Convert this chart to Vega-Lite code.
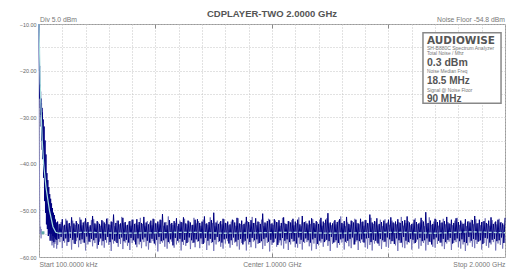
{
"$schema":"https://vega.github.io/schema/vega-lite/v6.json",
"width":466,"height":233,"autosize":"none",
"padding":{"left":39,"top":24,"right":7,"bottom":21},
"background":"white",
"title":{"text":"CDPLAYER-TWO 2.0000 GHz","font":"Liberation Sans","fontSize":9.5,"fontWeight":"bold","color":"#555555","anchor":"middle","offset":-2},
"config":{"view":{"stroke":"#9a9a9a","strokeWidth":1}},
"resolve":{"axis":{"x":"independent","y":"independent"}},
"data":{"values":[
{"f":0.1,"a":-10,"b":-10},{"f":1,"a":-13,"b":-12},{"f":2,"a":-20,"b":-18},{"f":3,"a":-19,"b":-22},{"f":4,"a":-26,"b":-26},{"f":5,"a":-23,"b":-25},{"f":6,"a":-28,"b":-28},{"f":7,"a":-24.5,"b":-27},{"f":8,"a":-29.5,"b":-30},{"f":9,"a":-26,"b":-29},{"f":10,"a":-32,"b":-32},{"f":11,"a":-27,"b":-31},{"f":12,"a":-35,"b":-33.5},{"f":13,"a":-28,"b":-32.5},{"f":14,"a":-37,"b":-35},{"f":15,"a":-29,"b":-34},{"f":16,"a":-39,"b":-36.5},{"f":18,"a":-30.5,"b":-36},{"f":20,"a":-43,"b":-39},{"f":22,"a":-32,"b":-38.5},{"f":24,"a":-48,"b":-41.5},{"f":26,"a":-35,"b":-41},{"f":28,"a":-50.5,"b":-44},{"f":30,"a":-38,"b":-43},{"f":32,"a":-53,"b":-46},{"f":34,"a":-42,"b":-45.5},{"f":36,"a":-54,"b":-48.5},{"f":38,"a":-43.5,"b":-47},{"f":40,"a":-55.5,"b":-50},{"f":42,"a":-45,"b":-49},{"f":44,"a":-55,"b":-52},{"f":46,"a":-46.5,"b":-50.5},{"f":48,"a":-56.5,"b":-54},{"f":50,"a":-47.5,"b":-52},{"f":52,"a":-55,"b":-56},{"f":54,"a":-48.5,"b":-52.5},{"f":56,"a":-56.5,"b":-57.5},{"f":58,"a":-49.5,"b":-52},{"f":60,"a":-55.5,"b":-57},{"f":62,"a":-50.5,"b":-53},{"f":64,"a":-56.8,"b":-58},{"f":66,"a":-51,"b":-52.5},{"f":68,"a":-55.8,"b":-57.2},{"f":70,"a":-52,"b":-51.8},{"f":72,"a":-56.2,"b":-56.8},{"f":74,"a":-52.6,"b":-53.2},{"f":76,"a":-56.3,"b":-58.2},{"f":78,"a":-55,"b":-52.6},
{"f":80,"a":-52.4,"b":-57.4},{"f":85,"a":-56.1,"b":-53.0},{"f":90,"a":-52.9,"b":-56.8},{"f":95,"a":-55.7,"b":-52.5},{"f":100,"a":-51.9,"b":-58.1},{"f":105,"a":-56.5,"b":-53.3},{"f":110,"a":-53.1,"b":-56.9},{"f":115,"a":-56.0,"b":-51.8},{"f":120,"a":-52.2,"b":-57.6},{"f":125,"a":-56.8,"b":-52.9},
{"f":130,"a":-52.7,"b":-56.7},{"f":135,"a":-55.9,"b":-53.4},{"f":140,"a":-51.5,"b":-58.4},{"f":145,"a":-56.3,"b":-52.2},{"f":150,"a":-52.8,"b":-57.1},{"f":155,"a":-57.2,"b":-53.1},{"f":160,"a":-52.3,"b":-56.6},{"f":165,"a":-55.8,"b":-52.7},{"f":170,"a":-53.0,"b":-57.9},{"f":175,"a":-56.4,"b":-51.5},
{"f":180,"a":-52.0,"b":-57.2},{"f":185,"a":-56.2,"b":-53.2},{"f":190,"a":-52.6,"b":-56.9},{"f":195,"a":-56.9,"b":-52.4},{"f":200,"a":-51.7,"b":-58.6},{"f":205,"a":-55.6,"b":-52.8},{"f":210,"a":-52.5,"b":-57.3},{"f":215,"a":-56.7,"b":-53.5},{"f":220,"a":-53.2,"b":-56.8},{"f":225,"a":-56.1,"b":-52.1},
{"f":230,"a":-51.2,"b":-57.7},{"f":235,"a":-56.4,"b":-51.9},{"f":240,"a":-52.8,"b":-57.0},{"f":245,"a":-55.9,"b":-53.0},{"f":250,"a":-52.3,"b":-58.2},{"f":255,"a":-57.4,"b":-52.6},{"f":260,"a":-52.9,"b":-56.7},{"f":265,"a":-56.0,"b":-53.3},{"f":270,"a":-52.1,"b":-57.5},{"f":275,"a":-56.6,"b":-52.3},
{"f":280,"a":-52.6,"b":-58.0},{"f":285,"a":-56.3,"b":-52.9},{"f":290,"a":-51.8,"b":-56.9},{"f":295,"a":-55.7,"b":-51.7},{"f":300,"a":-53.0,"b":-57.4},{"f":305,"a":-56.8,"b":-53.1},{"f":310,"a":-52.4,"b":-58.7},{"f":315,"a":-56.2,"b":-52.5},{"f":320,"a":-50.9,"b":-57.1},{"f":325,"a":-56.5,"b":-53.4},
{"f":330,"a":-52.7,"b":-56.8},{"f":335,"a":-57.0,"b":-52.2},{"f":340,"a":-52.2,"b":-57.8},{"f":345,"a":-56.1,"b":-53.0},{"f":350,"a":-52.8,"b":-57.2},{"f":355,"a":-55.8,"b":-51.4},{"f":360,"a":-51.6,"b":-58.3},{"f":365,"a":-56.6,"b":-52.7},{"f":370,"a":-52.5,"b":-56.9},{"f":375,"a":-56.3,"b":-53.2},
{"f":380,"a":-53.1,"b":-57.6},{"f":385,"a":-56.9,"b":-52.4},{"f":390,"a":-52.3,"b":-58.5},{"f":395,"a":-55.9,"b":-53.3},{"f":400,"a":-52.0,"b":-57.0},{"f":405,"a":-56.4,"b":-52.0},{"f":410,"a":-52.9,"b":-56.7},{"f":415,"a":-57.3,"b":-52.8},{"f":420,"a":-51.9,"b":-57.9},{"f":425,"a":-56.0,"b":-53.1},
{"f":430,"a":-52.5,"b":-57.3},{"f":435,"a":-56.7,"b":-51.6},{"f":440,"a":-52.7,"b":-58.1},{"f":445,"a":-56.2,"b":-52.9},{"f":450,"a":-51.4,"b":-56.8},{"f":455,"a":-55.8,"b":-53.4},{"f":460,"a":-52.6,"b":-57.7},{"f":465,"a":-56.5,"b":-52.3},{"f":470,"a":-53.0,"b":-58.4},{"f":475,"a":-56.9,"b":-52.6},
{"f":480,"a":-52.2,"b":-57.0},{"f":485,"a":-56.1,"b":-53.2},{"f":490,"a":-51.8,"b":-56.6},{"f":495,"a":-57.1,"b":-51.9},{"f":500,"a":-52.8,"b":-57.5},{"f":505,"a":-56.3,"b":-52.8},{"f":510,"a":-52.4,"b":-58.8},{"f":515,"a":-55.7,"b":-53.0},{"f":520,"a":-52.0,"b":-57.2},{"f":525,"a":-56.6,"b":-52.1},
{"f":530,"a":-50.8,"b":-56.9},{"f":535,"a":-56.4,"b":-53.3},{"f":540,"a":-52.6,"b":-57.8},{"f":545,"a":-56.0,"b":-52.5},{"f":550,"a":-53.2,"b":-58.2},{"f":555,"a":-56.8,"b":-51.3},{"f":560,"a":-52.1,"b":-57.1},{"f":565,"a":-56.2,"b":-52.9},{"f":570,"a":-52.7,"b":-56.7},{"f":575,"a":-57.5,"b":-53.1},
{"f":580,"a":-52.3,"b":-58.0},{"f":585,"a":-55.9,"b":-52.7},{"f":590,"a":-51.7,"b":-57.3},{"f":595,"a":-56.5,"b":-53.4},{"f":600,"a":-52.9,"b":-56.9},{"f":605,"a":-56.1,"b":-52.2},{"f":610,"a":-52.5,"b":-58.6},{"f":615,"a":-56.7,"b":-52.6},{"f":620,"a":-51.5,"b":-57.4},{"f":625,"a":-56.3,"b":-51.8},
{"f":630,"a":-52.8,"b":-57.6},{"f":635,"a":-57.0,"b":-53.0},{"f":640,"a":-52.2,"b":-56.8},{"f":645,"a":-55.8,"b":-52.4},{"f":650,"a":-52.6,"b":-58.3},{"f":655,"a":-56.4,"b":-53.2},{"f":660,"a":-53.1,"b":-57.0},{"f":665,"a":-56.9,"b":-51.6},{"f":670,"a":-52.0,"b":-57.9},{"f":675,"a":-56.2,"b":-52.8},
{"f":680,"a":-51.9,"b":-56.7},{"f":685,"a":-56.6,"b":-52.3},{"f":690,"a":-52.7,"b":-58.1},{"f":695,"a":-56.0,"b":-53.3},{"f":700,"a":-52.4,"b":-57.2},{"f":705,"a":-57.2,"b":-52.0},{"f":710,"a":-51.3,"b":-56.9},{"f":715,"a":-55.9,"b":-52.9},{"f":720,"a":-52.8,"b":-58.5},{"f":725,"a":-56.5,"b":-53.1},
{"f":730,"a":-52.5,"b":-57.5},{"f":735,"a":-56.1,"b":-51.5},{"f":740,"a":-52.1,"b":-57.0},{"f":745,"a":-56.8,"b":-52.7},{"f":750,"a":-50.5,"b":-58.7},{"f":755,"a":-56.3,"b":-53.4},{"f":760,"a":-52.6,"b":-57.3},{"f":765,"a":-55.7,"b":-52.2},{"f":770,"a":-52.9,"b":-56.8},{"f":775,"a":-56.6,"b":-52.6},
{"f":780,"a":-52.3,"b":-57.8},{"f":785,"a":-56.9,"b":-53.0},{"f":790,"a":-51.8,"b":-58.2},{"f":795,"a":-56.2,"b":-51.9},{"f":800,"a":-52.7,"b":-57.1},{"f":805,"a":-56.0,"b":-52.8},{"f":810,"a":-52.4,"b":-56.6},{"f":815,"a":-57.1,"b":-53.2},{"f":820,"a":-53.0,"b":-58.0},{"f":825,"a":-56.4,"b":-52.4},
{"f":830,"a":-52.0,"b":-57.4},{"f":835,"a":-55.8,"b":-52.1},{"f":840,"a":-52.6,"b":-56.9},{"f":845,"a":-56.7,"b":-53.3},{"f":850,"a":-51.6,"b":-57.7},{"f":855,"a":-56.3,"b":-51.7},{"f":860,"a":-52.8,"b":-58.4},{"f":865,"a":-56.1,"b":-52.9},{"f":870,"a":-52.2,"b":-57.0},{"f":875,"a":-57.3,"b":-53.1},
{"f":880,"a":-52.9,"b":-56.8},{"f":885,"a":-56.5,"b":-52.6},{"f":890,"a":-51.4,"b":-58.6},{"f":895,"a":-56.0,"b":-52.3},{"f":900,"a":-52.5,"b":-57.3},{"f":905,"a":-56.8,"b":-53.0},{"f":910,"a":-52.1,"b":-57.9},{"f":915,"a":-55.9,"b":-51.4},{"f":920,"a":-52.7,"b":-56.7},{"f":925,"a":-56.4,"b":-52.7},
{"f":930,"a":-51.7,"b":-58.1},{"f":935,"a":-56.2,"b":-53.2},{"f":940,"a":-52.4,"b":-57.2},{"f":945,"a":-57.0,"b":-52.5},{"f":950,"a":-52.9,"b":-56.9},{"f":955,"a":-56.6,"b":-52.0},{"f":960,"a":-50.7,"b":-58.3},{"f":965,"a":-56.1,"b":-53.4},{"f":970,"a":-52.6,"b":-57.6},{"f":975,"a":-55.8,"b":-52.8},
{"f":980,"a":-52.3,"b":-57.0},{"f":985,"a":-56.7,"b":-51.8},{"f":990,"a":-52.0,"b":-58.8},{"f":995,"a":-56.3,"b":-52.9},{"f":1000,"a":-52.8,"b":-57.4},{"f":1005,"a":-56.9,"b":-53.1},{"f":1010,"a":-51.9,"b":-56.8},{"f":1015,"a":-56.0,"b":-52.2},{"f":1020,"a":-52.5,"b":-57.8},{"f":1025,"a":-57.4,"b":-52.6},
{"f":1030,"a":-52.1,"b":-56.9},{"f":1035,"a":-56.4,"b":-53.3},{"f":1040,"a":-52.7,"b":-57.5},{"f":1045,"a":-55.9,"b":-51.6},{"f":1050,"a":-51.5,"b":-58.2},{"f":1055,"a":-56.5,"b":-52.7},{"f":1060,"a":-52.9,"b":-57.1},{"f":1065,"a":-56.2,"b":-53.0},{"f":1070,"a":-52.3,"b":-58.5},{"f":1075,"a":-56.8,"b":-52.4},
{"f":1080,"a":-52.6,"b":-57.3},{"f":1085,"a":-56.1,"b":-52.1},{"f":1090,"a":-51.8,"b":-56.7},{"f":1095,"a":-56.6,"b":-53.2},{"f":1100,"a":-52.4,"b":-57.9},{"f":1105,"a":-57.1,"b":-52.8},{"f":1110,"a":-52.0,"b":-58.0},{"f":1115,"a":-55.8,"b":-51.5},{"f":1120,"a":-53.0,"b":-57.2},{"f":1125,"a":-56.3,"b":-53.4},
{"f":1130,"a":-51.2,"b":-58.4},{"f":1135,"a":-56.7,"b":-52.6},{"f":1140,"a":-52.5,"b":-57.0},{"f":1145,"a":-56.0,"b":-52.3},{"f":1150,"a":-52.8,"b":-56.8},{"f":1155,"a":-56.4,"b":-53.1},{"f":1160,"a":-52.2,"b":-57.7},{"f":1165,"a":-56.9,"b":-52.9},{"f":1170,"a":-51.7,"b":-58.6},{"f":1175,"a":-56.2,"b":-51.9},
{"f":1180,"a":-52.7,"b":-57.1},{"f":1185,"a":-55.9,"b":-53.0},{"f":1190,"a":-52.3,"b":-58.3},{"f":1195,"a":-57.2,"b":-52.5},{"f":1200,"a":-52.9,"b":-57.5},{"f":1205,"a":-56.5,"b":-52.0},{"f":1210,"a":-51.6,"b":-56.9},{"f":1215,"a":-56.1,"b":-53.3},{"f":1220,"a":-52.4,"b":-57.8},{"f":1225,"a":-56.8,"b":-52.7},
{"f":1230,"a":-52.0,"b":-56.6},{"f":1235,"a":-56.3,"b":-51.7},{"f":1240,"a":-50.6,"b":-57.6},{"f":1245,"a":-56.6,"b":-52.8},{"f":1250,"a":-52.6,"b":-58.7},{"f":1255,"a":-55.7,"b":-53.2},{"f":1260,"a":-52.8,"b":-57.2},{"f":1265,"a":-56.9,"b":-52.4},{"f":1270,"a":-52.1,"b":-56.8},{"f":1275,"a":-56.4,"b":-53.0},
{"f":1280,"a":-52.5,"b":-58.0},{"f":1285,"a":-57.0,"b":-52.2},{"f":1290,"a":-51.9,"b":-57.4},{"f":1295,"a":-56.2,"b":-51.3},{"f":1300,"a":-52.7,"b":-56.9},{"f":1305,"a":-56.0,"b":-52.9},{"f":1310,"a":-52.3,"b":-58.4},{"f":1315,"a":-56.7,"b":-53.4},{"f":1320,"a":-51.4,"b":-57.0},{"f":1325,"a":-56.5,"b":-52.6},
{"f":1330,"a":-52.9,"b":-57.7},{"f":1335,"a":-56.1,"b":-53.1},{"f":1340,"a":-52.2,"b":-58.1},{"f":1345,"a":-55.8,"b":-52.3},{"f":1350,"a":-52.6,"b":-57.3},{"f":1355,"a":-57.3,"b":-51.8},{"f":1360,"a":-52.0,"b":-56.7},{"f":1365,"a":-56.4,"b":-52.7},{"f":1370,"a":-52.8,"b":-58.5},{"f":1375,"a":-56.6,"b":-53.0},
{"f":1380,"a":-51.8,"b":-57.0},{"f":1385,"a":-56.2,"b":-52.5},{"f":1390,"a":-52.4,"b":-56.8},{"f":1395,"a":-56.9,"b":-53.3},{"f":1400,"a":-52.1,"b":-57.9},{"f":1405,"a":-56.0,"b":-52.1},{"f":1410,"a":-52.7,"b":-58.2},{"f":1415,"a":-55.9,"b":-52.8},{"f":1420,"a":-50.9,"b":-57.4},{"f":1425,"a":-56.8,"b":-51.6},
{"f":1430,"a":-52.6,"b":-58.6},{"f":1435,"a":-56.3,"b":-52.9},{"f":1440,"a":-52.3,"b":-57.1},{"f":1445,"a":-56.5,"b":-52.4},{"f":1450,"a":-51.7,"b":-56.9},{"f":1455,"a":-57.1,"b":-53.2},{"f":1460,"a":-52.9,"b":-57.6},{"f":1465,"a":-56.1,"b":-52.0},{"f":1470,"a":-52.5,"b":-58.3},{"f":1475,"a":-56.4,"b":-53.4},
{"f":1480,"a":-52.2,"b":-56.8},{"f":1485,"a":-56.7,"b":-51.9},{"f":1490,"a":-52.8,"b":-57.8},{"f":1495,"a":-55.8,"b":-52.6},{"f":1500,"a":-52.0,"b":-58.0},{"f":1505,"a":-56.2,"b":-53.1},{"f":1510,"a":-51.5,"b":-57.2},{"f":1515,"a":-56.6,"b":-52.2},{"f":1520,"a":-52.6,"b":-56.6},{"f":1525,"a":-57.2,"b":-52.8},
{"f":1530,"a":-52.4,"b":-57.5},{"f":1535,"a":-56.0,"b":-53.0},{"f":1540,"a":-51.9,"b":-58.7},{"f":1545,"a":-56.4,"b":-52.5},{"f":1550,"a":-52.7,"b":-57.0},{"f":1555,"a":-56.9,"b":-51.4},{"f":1560,"a":-52.3,"b":-57.9},{"f":1565,"a":-55.7,"b":-53.3},{"f":1570,"a":-52.1,"b":-58.1},{"f":1575,"a":-56.5,"b":-52.7},
{"f":1580,"a":-51.3,"b":-57.3},{"f":1585,"a":-56.8,"b":-52.3},{"f":1590,"a":-52.6,"b":-56.9},{"f":1595,"a":-56.1,"b":-53.2},{"f":1600,"a":-52.9,"b":-58.4},{"f":1605,"a":-56.3,"b":-52.8},{"f":1610,"a":-52.0,"b":-57.1},{"f":1615,"a":-57.0,"b":-51.7},{"f":1620,"a":-52.5,"b":-56.7},{"f":1625,"a":-56.2,"b":-53.0},
{"f":1630,"a":-52.8,"b":-58.2},{"f":1635,"a":-55.9,"b":-52.6},{"f":1640,"a":-51.6,"b":-57.6},{"f":1645,"a":-56.6,"b":-52.1},{"f":1650,"a":-52.4,"b":-57.0},{"f":1655,"a":-56.4,"b":-53.4},{"f":1660,"a":-50.4,"b":-58.6},{"f":1665,"a":-56.0,"b":-52.9},{"f":1670,"a":-52.7,"b":-57.4},{"f":1675,"a":-56.7,"b":-51.5},
{"f":1680,"a":-52.2,"b":-56.8},{"f":1685,"a":-57.3,"b":-53.1},{"f":1690,"a":-52.9,"b":-57.8},{"f":1695,"a":-56.2,"b":-52.4},{"f":1700,"a":-51.8,"b":-58.0},{"f":1705,"a":-55.8,"b":-52.0},{"f":1710,"a":-52.5,"b":-57.2},{"f":1715,"a":-56.5,"b":-53.3},{"f":1720,"a":-52.1,"b":-56.9},{"f":1725,"a":-56.9,"b":-52.7},
{"f":1730,"a":-52.6,"b":-57.7},{"f":1735,"a":-56.1,"b":-51.8},{"f":1740,"a":-52.3,"b":-58.3},{"f":1745,"a":-56.8,"b":-53.0},{"f":1750,"a":-51.4,"b":-57.1},{"f":1755,"a":-56.3,"b":-52.5},{"f":1760,"a":-52.8,"b":-56.7},{"f":1765,"a":-55.9,"b":-52.9},{"f":1770,"a":-52.0,"b":-58.5},{"f":1775,"a":-57.1,"b":-53.2},
{"f":1780,"a":-52.7,"b":-57.0},{"f":1785,"a":-56.4,"b":-52.2},{"f":1790,"a":-51.7,"b":-56.8},{"f":1795,"a":-56.0,"b":-51.6},{"f":1800,"a":-52.5,"b":-57.9},{"f":1805,"a":-56.6,"b":-53.1},{"f":1810,"a":-52.2,"b":-58.2},{"f":1815,"a":-56.2,"b":-52.6},{"f":1820,"a":-52.9,"b":-57.3},{"f":1825,"a":-56.8,"b":-52.8},
{"f":1830,"a":-51.9,"b":-58.7},{"f":1835,"a":-57.0,"b":-53.4},{"f":1840,"a":-52.4,"b":-57.5},{"f":1845,"a":-55.7,"b":-52.3},{"f":1850,"a":-52.6,"b":-56.9},{"f":1855,"a":-56.5,"b":-52.0},{"f":1860,"a":-52.1,"b":-57.8},{"f":1865,"a":-56.1,"b":-53.0},{"f":1870,"a":-51.2,"b":-58.1},{"f":1875,"a":-56.3,"b":-51.9},
{"f":1880,"a":-52.8,"b":-57.2},{"f":1885,"a":-56.7,"b":-52.7},{"f":1890,"a":-52.0,"b":-56.6},{"f":1895,"a":-56.4,"b":-53.2},{"f":1900,"a":-52.5,"b":-58.4},{"f":1905,"a":-57.2,"b":-52.4},{"f":1910,"a":-52.3,"b":-57.0},{"f":1915,"a":-55.9,"b":-51.7},{"f":1920,"a":-52.7,"b":-57.6},{"f":1925,"a":-56.0,"b":-52.9},
{"f":1930,"a":-52.2,"b":-58.0},{"f":1935,"a":-56.9,"b":-53.3},{"f":1940,"a":-51.5,"b":-57.3},{"f":1945,"a":-56.3,"b":-52.1},{"f":1950,"a":-52.9,"b":-56.8},{"f":1955,"a":-56.1,"b":-52.6},{"f":1960,"a":-52.4,"b":-58.6},{"f":1965,"a":-56.6,"b":-53.0},{"f":1970,"a":-52.0,"b":-57.1},{"f":1975,"a":-56.4,"b":-51.8},
{"f":1980,"a":-52.6,"b":-57.4},{"f":1985,"a":-55.8,"b":-52.5},{"f":1990,"a":-52.8,"b":-58.2},{"f":1995,"a":-57.0,"b":-53.1},{"f":2000,"a":-51.6,"b":-56.9}
]},
"layer":[
{"mark":{"type":"line","color":"#6c6cb4","strokeWidth":1,"opacity":0.85},
 "encoding":{
  "x":{"field":"f","type":"quantitative","scale":{"domain":[0.1,2000],"nice":false,"zero":false},
   "axis":{"title":null,"values":[0.1,100,200,300,400,500,600,700,800,900,1000,1100,1200,1300,1400,1500,1600,1700,1800,1900,2000],
    "labelExpr":"datum.value < 1 ? 'Start 100.0000 kHz' : datum.value == 1000 ? 'Center 1.0000 GHz' : datum.value == 2000 ? 'Stop 2.0000 GHz' : ''",
    "labelAlign":{"condition":[{"test":"datum.value < 1","value":"left"},{"test":"datum.value > 1999","value":"right"}],"value":"center"},
    "labelBaseline":"middle","labelPadding":7.5,"labelFont":"Liberation Sans","labelFontSize":6.8,"labelColor":"#777777",
    "labelOverlap":false,"labelBound":false,"labelFlush":false,
    "ticks":false,"domain":false,"grid":true,"gridColor":"#c4c4c4","gridDash":[1,2],"gridWidth":1}},
  "y":{"field":"b","type":"quantitative","scale":{"domain":[-60,-10],"nice":false,"zero":false},
   "axis":{"title":null,"values":[-60,-55,-50,-45,-40,-35,-30,-25,-20,-15,-10],
    "labelExpr":"datum.value % 10 == 0 ? format(datum.value, '.2f') : ''",
    "labelFont":"Liberation Sans","labelFontSize":5.4,"labelColor":"#666666","labelPadding":3,
    "labelOverlap":false,"labelBound":false,"labelFlush":false,
    "ticks":false,"domain":false,"grid":true,"gridColor":"#c4c4c4","gridDash":[1,2],"gridWidth":1}}}},
{"data":{"values":[{"f":0.1,"c":-10},{"f":1,"c":-28},{"f":2,"c":-40},{"f":3,"c":-47},{"f":4,"c":-52},{"f":5,"c":-55},{"f":7,"c":-53.5},{"f":9,"c":-56},{"f":11,"c":-54}]},
 "mark":{"type":"line","color":"#8080c0","strokeWidth":1,"opacity":0.8},
 "encoding":{"x":{"field":"f","type":"quantitative","axis":{"orient":"top","title":null,"values":[500,1000,1500],"labels":false,"grid":false,"domain":false,"ticks":true,"tickSize":-4,"tickColor":"#888888","tickWidth":1}},
  "y":{"field":"c","type":"quantitative","axis":null}}},
{"mark":{"type":"line","color":"#000080","strokeWidth":1},
 "encoding":{"x":{"field":"f","type":"quantitative","axis":{"orient":"bottom","title":null,"values":[500,1000,1500],"labels":false,"grid":false,"domain":false,"ticks":true,"tickSize":-4,"tickColor":"#888888","tickWidth":1}},
  "y":{"field":"a","type":"quantitative","axis":null}}},
{"data":{"values":[{"f":0.1,"m":-10},{"f":5,"m":-22},{"f":9,"m":-28.5},{"f":14,"m":-35},{"f":20,"m":-40},{"f":30,"m":-45},{"f":45,"m":-50},{"f":60,"m":-53.5},{"f":72,"m":-54.7},{"f":85,"m":-54.9}]},
 "mark":{"type":"line","color":"#a8dede","strokeWidth":1.2},
 "encoding":{"x":{"field":"f","type":"quantitative","axis":null},"y":{"field":"m","type":"quantitative","axis":null}}},
{"data":{"values":[{"f":85,"m":-54.9},{"f":200,"m":-54.7},{"f":350,"m":-54.9},{"f":500,"m":-54.8},{"f":650,"m":-54.7},{"f":800,"m":-54.9},{"f":950,"m":-54.8},{"f":1100,"m":-54.7},{"f":1250,"m":-54.9},{"f":1400,"m":-54.8},{"f":1550,"m":-54.7},{"f":1700,"m":-54.9},{"f":1850,"m":-54.6},{"f":2000,"m":-54.8}]},
 "mark":{"type":"line","color":"#b4e2e2","strokeWidth":1.3,"strokeDash":[3,2]},
 "encoding":{"x":{"field":"f","type":"quantitative","axis":null},"y":{"field":"m","type":"quantitative","axis":null}}},
{"data":{"values":[{"f":17,"m":-54.8}]},
 "mark":{"type":"square","size":9,"color":"#5fa8a8","opacity":1},
 "encoding":{"x":{"field":"f","type":"quantitative","axis":null},"y":{"field":"m","type":"quantitative","axis":null}}},
{"data":{"values":[{"k":"box"}]},
 "mark":{"type":"rect","fill":"white","stroke":"#888888","strokeWidth":1.5},
 "encoding":{"x":{"datum":1648,"axis":null},"x2":{"datum":1983},"y":{"datum":-11.9,"axis":null},"y2":{"datum":-27.0}}},
{"data":{"values":[{"t":"Div 5.0 dBm"}]},
 "mark":{"type":"text","align":"left","baseline":"middle","font":"Liberation Sans","fontSize":6.8,"color":"#777777","dx":1,"dy":-4.5},
 "encoding":{"x":{"datum":0.1,"axis":null},"y":{"datum":-10,"axis":null},"text":{"field":"t"}}},
{"data":{"values":[{"t":"Noise Floor -54.8 dBm"}]},
 "mark":{"type":"text","align":"right","baseline":"middle","font":"Liberation Sans","fontSize":6.8,"color":"#777777","dx":0,"dy":-4.5},
 "encoding":{"x":{"datum":2000,"axis":null},"y":{"datum":-10,"axis":null},"text":{"field":"t"}}},
{"data":{"values":[{"t":"AUDIOWISE"}]},
 "mark":{"type":"text","align":"left","baseline":"middle","font":"DejaVu Sans","fontSize":10.5,"fontWeight":"bold","color":"#555555"},
 "encoding":{"x":{"datum":1665,"axis":null},"y":{"datum":-13.65,"axis":null},"text":{"field":"t"}}},
{"data":{"values":[{"t":"SH-B880C Spectrum Analyzer"}]},
 "mark":{"type":"text","align":"left","baseline":"middle","font":"Liberation Sans","fontSize":5,"color":"#777777"},
 "encoding":{"x":{"datum":1665,"axis":null},"y":{"datum":-15.09,"axis":null},"text":{"field":"t"}}},
{"data":{"values":[{"t":"Total Noise / Mhz"}]},
 "mark":{"type":"text","align":"left","baseline":"middle","font":"Liberation Sans","fontSize":4.8,"color":"#777777"},
 "encoding":{"x":{"datum":1665,"axis":null},"y":{"datum":-16.5,"axis":null},"text":{"field":"t"}}},
{"data":{"values":[{"t":"0.3 dBm"}]},
 "mark":{"type":"text","align":"left","baseline":"middle","font":"Liberation Sans","fontSize":10.5,"fontWeight":"bold","color":"#555555"},
 "encoding":{"x":{"datum":1665,"axis":null},"y":{"datum":-18.37,"axis":null},"text":{"field":"t"}}},
{"data":{"values":[{"t":"Noise Median Freq"}]},
 "mark":{"type":"text","align":"left","baseline":"middle","font":"Liberation Sans","fontSize":4.8,"color":"#777777"},
 "encoding":{"x":{"datum":1665,"axis":null},"y":{"datum":-20.37,"axis":null},"text":{"field":"t"}}},
{"data":{"values":[{"t":"18.5 MHz"}]},
 "mark":{"type":"text","align":"left","baseline":"middle","font":"Liberation Sans","fontSize":10,"fontWeight":"bold","color":"#555555"},
 "encoding":{"x":{"datum":1665,"axis":null},"y":{"datum":-22.23,"axis":null},"text":{"field":"t"}}},
{"data":{"values":[{"t":"Signal @ Noise Floor"}]},
 "mark":{"type":"text","align":"left","baseline":"middle","font":"Liberation Sans","fontSize":4.8,"color":"#777777"},
 "encoding":{"x":{"datum":1665,"axis":null},"y":{"datum":-24.38,"axis":null},"text":{"field":"t"}}},
{"data":{"values":[{"t":"90 MHz"}]},
 "mark":{"type":"text","align":"left","baseline":"middle","font":"Liberation Sans","fontSize":10,"fontWeight":"bold","color":"#555555"},
 "encoding":{"x":{"datum":1665,"axis":null},"y":{"datum":-26.2,"axis":null},"text":{"field":"t"}}}
]
}
